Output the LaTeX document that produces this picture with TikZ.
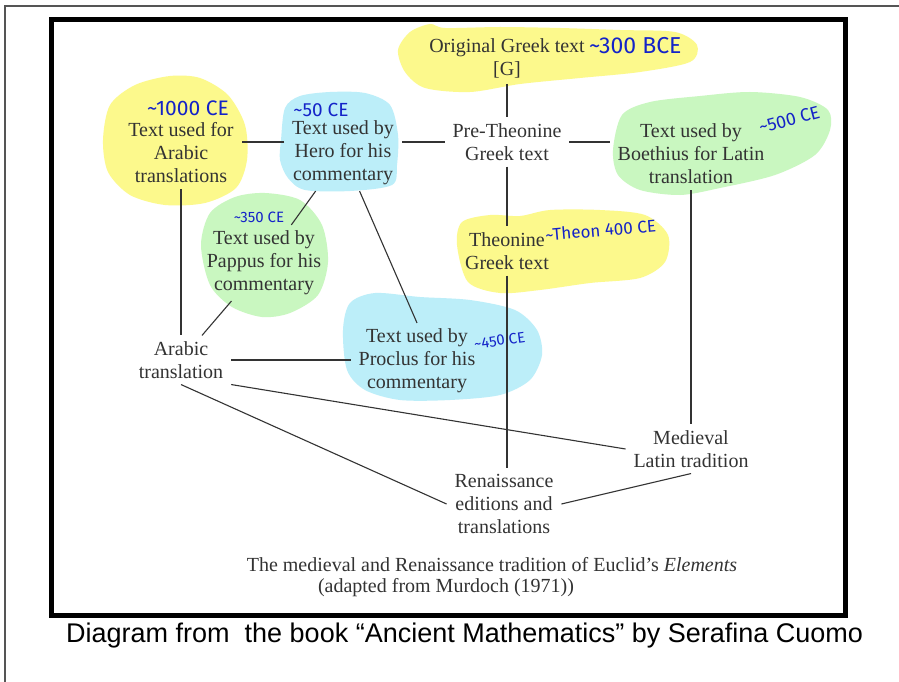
\documentclass[tikz,border=0pt]{standalone}
\usepackage{fontspec}
\setmainfont{Liberation Serif}
\newfontfamily\capfont{Liberation Sans}
\newfontfamily\handfont{Fira Sans}
\definecolor{mYellow}{HTML}{FCF98C}
\definecolor{mBlue}{HTML}{BCEEF9}
\definecolor{mGreen}{HTML}{C9F7C0}
\definecolor{mInk}{HTML}{1423C8}
\definecolor{mText}{HTML}{333333}
\definecolor{mFrame}{HTML}{555555}

\begin{document}
\begin{tikzpicture}[x=1pt, y=-1pt,
    box/.style={align=center, text=mText, inner xsep=8pt, inner ysep=6pt, outer sep=0pt, font=\fontsize{20}{23}\selectfont},
    note/.style={text=mInk, inner sep=0pt, font=\handfont\fontsize{#1}{#1}\selectfont},
    note/.default=18,
    link/.style={draw=mText, line width=1.1pt}]
    \useasboundingbox[fill=white] (0,0) rectangle (899,682);
    \draw[mFrame, line width=1.2pt] (5,682) -- (5,6) -- (899,6);
    \draw[line width=5pt] (51,19.5) rectangle (845.5,615.5);
    % highlighter blobs
    \fill[mYellow] plot[smooth cycle] coordinates {(398,50) (410,32) (430,24) (445,28) (500,27) (560,28) (620,30) (675,32) (697,45) (690,62) (640,72) (580,78) (520,84) (470,92) (425,88) (405,72)};
    \fill[mYellow] plot[smooth cycle] coordinates {(103,140) (110,105) (135,85) (170,76) (200,78) (228,95) (245,125) (247,160) (236,188) (205,203) (165,205) (130,195) (108,172)};
    \fill[mBlue] plot[smooth cycle] coordinates {(281,140) (285,108) (300,96) (330,92) (365,93) (390,105) (398,135) (397,165) (392,185) (350,191) (305,190) (288,178) (280,160)};
    \fill[mGreen] plot[smooth cycle] coordinates {(201,245) (210,213) (235,197) (265,193) (300,200) (322,225) (328,262) (318,295) (290,313) (262,317) (232,307) (210,285)};
    \fill[mBlue] plot[smooth cycle] coordinates {(343,330) (350,303) (375,293) (420,297) (470,300) (515,310) (537,330) (542,355) (530,380) (500,395) (450,400) (400,400) (365,390) (347,370)};
    \fill[mYellow] plot[smooth cycle] coordinates {(457,245) (462,222) (490,215) (520,216) (550,210) (600,210) (645,215) (668,235) (665,262) (640,278) (590,283) (540,290) (500,293) (468,282)};
    \fill[mGreen] plot[smooth cycle] coordinates {(613,150) (622,115) (650,102) (700,96) (750,92) (800,97) (828,110) (830,130) (815,155) (775,175) (720,188) (680,195) (640,190) (618,175)};
    % texts
    \node[box] (orig) at (507,58) {Original Greek text\\{}[G]};
    \node[box] (pretheo) at (507,142) {Pre-Theonine\\Greek text};
    \node[box] (theon) at (507,251) {Theonine\\Greek text};
    \node[box] (boeth) at (691,154) {Text used by\\Boethius for Latin\\translation};
    \node[box] (arabtext) at (181,153) {Text used for\\Arabic\\translations};
    \node[box] (hero) at (343,153) {Text used by\\Hero for his\\commentary};
    \node[box] (pappus) at (264,263) {Text used by\\Pappus for his\\commentary};
    \node[box] (arab) at (181,360) {Arabic\\translation};
    \node[box] (proclus) at (417,361) {Text used by\\Proclus for his\\commentary};
    \node[box] (med) at (691,449) {Medieval\\Latin tradition};
    \node[box] (ren) at (504,504) {Renaissance\\editions and\\translations};
    \node[box, inner sep=0pt] (title) at (492,565) {The medieval and Renaissance tradition of Euclid’s \emph{Elements}};
    \node[box, inner sep=0pt, anchor=west] (source) at (318,588) {(adapted from Murdoch (1971))};
    \node[anchor=west, inner sep=0pt, font=\capfont\fontsize{27}{27}\selectfont] (credit) at (66,636) {Diagram from\ \ the book “Ancient Mathematics” by Serafina Cuomo};
    % handwritten dates
    \node[note=23, anchor=west] (d300) at (589,46) {\textasciitilde300 BCE};
    \node[note=21] (d1000) at (188,108) {\textasciitilde1000 CE};
    \node[note=19] (d50) at (321,110) {\textasciitilde50 CE};
    \node[note=15] (d350) at (259,217) {\textasciitilde350 CE};
    \node[note=15, rotate=8, anchor=west] (d450) at (474,344) {\textasciitilde450 CE};
    \node[note=18, rotate=15, anchor=west] (d500) at (759,128) {\textasciitilde500 CE};
    \node[note=17, rotate=5, anchor=west] (d400) at (545,235) {\textasciitilde Theon 400 CE};
    % connectors
    \draw[link] (orig) -- (pretheo);
    \draw[link] (pretheo) -- (theon);
    \draw[link] (theon.south) -- (theon.south |- ren.north);
    \draw[link] (pretheo.west) -- (pretheo.west -| hero.east);
    \draw[link] (pretheo.east) -- (pretheo.east -| boeth.west);
    \draw[link] (hero.west |- pretheo.west) -- (arabtext.east |- pretheo.west);
    \draw[link] (arabtext) -- (arab);
    \draw[link] (hero) -- (pappus);
    \draw[link] (hero) -- (proclus.north);
    \draw[link] (pappus) -- (arab);
    \draw[link] (arab.east) -- (arab.east -| proclus.west);
    \draw[link] (arab.south east) -- (med.west);
    \draw[link] (arab.south) -- (ren.west);
    \draw[link] (boeth) -- (med);
    \draw[link] (med.south) -- (ren.east);
\end{tikzpicture}
\end{document}
